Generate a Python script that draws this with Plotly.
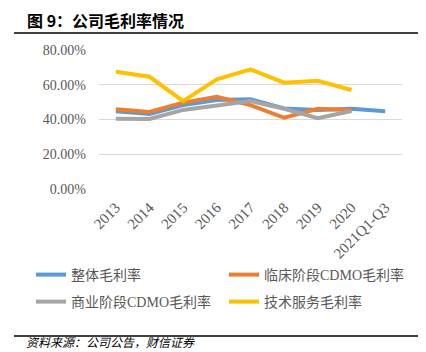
import plotly.graph_objects as go

categories = ["2013", "2014", "2015", "2016", "2017", "2018", "2019", "2020", "2021Q1-Q3"]
overall = [0.447, 0.432, 0.483, 0.512, 0.516, 0.464, 0.455, 0.462, 0.447]
clinical = [0.459, 0.443, 0.497, 0.531, 0.483, 0.410, 0.462, 0.455, None]
commercial = [0.405, 0.403, 0.455, 0.483, 0.506, 0.462, 0.407, 0.449, None]
tech = [0.675, 0.646, 0.506, 0.631, 0.689, 0.612, 0.623, 0.570, None]

names = ["整体毛利率", "临床阶段CDMO毛利率", "商业阶段CDMO毛利率", "技术服务毛利率"]
colors = ["#5B9BD5", "#ED7D31", "#A5A5A5", "#FFC000"]
series = [overall, clinical, commercial, tech]
legends = ["legend", "legend", "legend2", "legend2"]

W, H = 426, 352
L, R, T, B = 99, 402, 50, 189

def px_x(p):
    return (p - L) / (R - L)

def px_y(p):
    return (B - p) / (B - T)

fig = go.Figure()
for name, col, vals, lg in zip(names, colors, series, legends):
    fig.add_trace(go.Scatter(x=categories, y=vals, name=name, mode="lines",
                             line=dict(color=col, width=4), legend=lg,
                             connectgaps=False))

serif = "Liberation Serif, Noto Sans CJK SC, serif"
cjk = "Liberation Serif, Noto Sans CJK SC"

legend_common = dict(orientation="h", xanchor="left", yanchor="middle",
                     font=dict(family=cjk, size=14, color="#595959"),
                     bgcolor="rgba(0,0,0,0)", entrywidth=148, entrywidthmode="pixels",
                     itemwidth=30, tracegroupgap=0)

fig.update_layout(
    width=W, height=H,
    margin=dict(l=L, r=W - R, t=T, b=H - B, autoexpand=False),
    paper_bgcolor="white", plot_bgcolor="white",
    showlegend=True,
    legend=dict(x=px_x(31), y=px_y(275), **legend_common),
    legend2=dict(x=px_x(31), y=px_y(302), **legend_common),
    xaxis=dict(type="category", showgrid=False, showline=False, zeroline=False,
               tickangle=-45, ticks="", automargin=False, ticklabelstandoff=6,
               tickfont=dict(family=serif, size=15, color="#595959"),
               range=[-0.5, len(categories) - 0.5]),
    yaxis=dict(range=[0, 0.8], dtick=0.2, tickformat=".2%", showgrid=True,
               gridcolor="#D9D9D9", gridwidth=1, zeroline=False, showline=False,
               ticks="", automargin=False, ticklabelstandoff=12,
               tickfont=dict(family=serif, size=14, color="#595959")),
)

# title and rules
fig.add_annotation(text="<b>图 9：公司毛利率情况</b>", xref="paper", yref="paper",
                   x=px_x(25), y=px_y(20), xanchor="left", yanchor="middle",
                   showarrow=False, font=dict(family="Noto Sans CJK SC", size=16, color="#000000"))
fig.add_shape(type="line", xref="paper", yref="paper", x0=px_x(14), x1=px_x(418),
              y0=px_y(33), y1=px_y(33), line=dict(color="#404040", width=2))
fig.add_shape(type="line", xref="paper", yref="paper", x0=px_x(14), x1=px_x(418),
              y0=px_y(336), y1=px_y(336), line=dict(color="#000000", width=1.5))
fig.add_annotation(text="<i>资料来源：公司公告，财信证券</i>", xref="paper", yref="paper",
                   x=px_x(25), y=px_y(351), xanchor="left", yanchor="bottom",
                   showarrow=False, borderpad=0,
                   font=dict(family="Noto Sans CJK SC", size=12, color="#000000"))

fig.write_html("out.html")
